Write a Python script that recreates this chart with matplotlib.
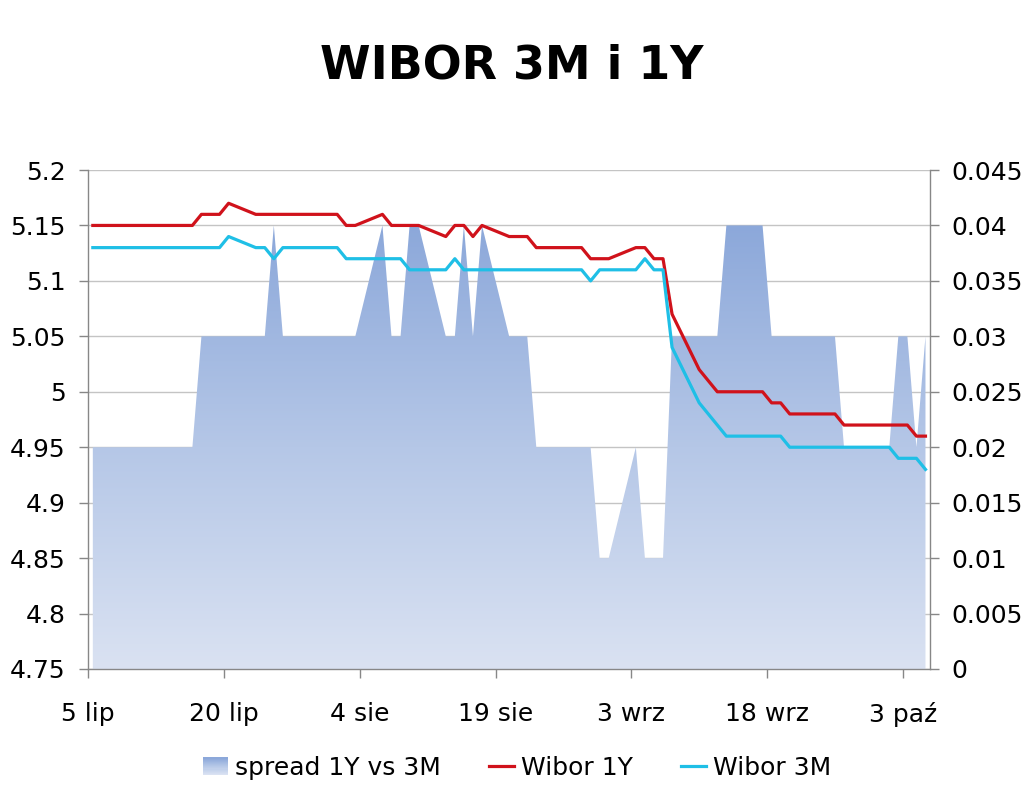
import numpy as np
import pandas as pd
import matplotlib
matplotlib.use("Agg")
import matplotlib.pyplot as plt
import matplotlib.dates as mdates
from matplotlib.colors import LinearSegmentedColormap
from matplotlib.patches import PathPatch, Rectangle
from matplotlib.lines import Line2D
from matplotlib.legend_handler import HandlerBase
from matplotlib.ticker import FuncFormatter

# --- data (business days, 2012) ---
dates = [
    "2012-07-05", "2012-07-06", "2012-07-09", "2012-07-10", "2012-07-11", "2012-07-12",
    "2012-07-13", "2012-07-16", "2012-07-17", "2012-07-18", "2012-07-19", "2012-07-20",
    "2012-07-23", "2012-07-24", "2012-07-25", "2012-07-26", "2012-07-27", "2012-07-30",
    "2012-07-31", "2012-08-01", "2012-08-02", "2012-08-03", "2012-08-06", "2012-08-07",
    "2012-08-08", "2012-08-09", "2012-08-10", "2012-08-13", "2012-08-14", "2012-08-15",
    "2012-08-16", "2012-08-17", "2012-08-20", "2012-08-21", "2012-08-22", "2012-08-23",
    "2012-08-24", "2012-08-27", "2012-08-28", "2012-08-29", "2012-08-30", "2012-08-31",
    "2012-09-03", "2012-09-04", "2012-09-05", "2012-09-06", "2012-09-07", "2012-09-10",
    "2012-09-11", "2012-09-12", "2012-09-13", "2012-09-14", "2012-09-17", "2012-09-18",
    "2012-09-19", "2012-09-20", "2012-09-21", "2012-09-24", "2012-09-25", "2012-09-26",
    "2012-09-27", "2012-09-28", "2012-10-01", "2012-10-02", "2012-10-03", "2012-10-04",
    "2012-10-05",
]

wibor_1y = [
    5.15, 5.15, 5.15, 5.15, 5.15, 5.15, 5.15, 5.15, 5.16, 5.16, 5.16, 5.17,
    5.16, 5.16, 5.16, 5.16, 5.16, 5.16, 5.16, 5.16, 5.15, 5.15, 5.16, 5.15,
    5.15, 5.15, 5.15, 5.14, 5.15, 5.15, 5.14, 5.15, 5.14, 5.14, 5.14, 5.13,
    5.13, 5.13, 5.13, 5.12, 5.12, 5.12, 5.13, 5.13, 5.12, 5.12, 5.07, 5.02,
    5.01, 5.00, 5.00, 5.00, 5.00, 4.99, 4.99, 4.98, 4.98, 4.98, 4.98, 4.97,
    4.97, 4.97, 4.97, 4.97, 4.97, 4.96, 4.96,
]

wibor_3m = [
    5.13, 5.13, 5.13, 5.13, 5.13, 5.13, 5.13, 5.13, 5.13, 5.13, 5.13, 5.14,
    5.13, 5.13, 5.12, 5.13, 5.13, 5.13, 5.13, 5.13, 5.12, 5.12, 5.12, 5.12,
    5.12, 5.11, 5.11, 5.11, 5.12, 5.11, 5.11, 5.11, 5.11, 5.11, 5.11, 5.11,
    5.11, 5.11, 5.11, 5.10, 5.11, 5.11, 5.11, 5.12, 5.11, 5.11, 5.04, 4.99,
    4.98, 4.97, 4.96, 4.96, 4.96, 4.96, 4.96, 4.95, 4.95, 4.95, 4.95, 4.95,
    4.95, 4.95, 4.95, 4.94, 4.94, 4.94, 4.93,
]

spread = [
    0.02, 0.02, 0.02, 0.02, 0.02, 0.02, 0.02, 0.02, 0.03, 0.03, 0.03, 0.03,
    0.03, 0.03, 0.04, 0.03, 0.03, 0.03, 0.03, 0.03, 0.03, 0.03, 0.04, 0.03,
    0.03, 0.04, 0.04, 0.03, 0.03, 0.04, 0.03, 0.04, 0.03, 0.03, 0.03, 0.02,
    0.02, 0.02, 0.02, 0.02, 0.01, 0.01, 0.02, 0.01, 0.01, 0.01, 0.03, 0.03,
    0.03, 0.03, 0.04, 0.04, 0.04, 0.03, 0.03, 0.03, 0.03, 0.03, 0.03, 0.02,
    0.02, 0.02, 0.02, 0.03, 0.03, 0.02, 0.03,
]

tick_dates = ["2012-07-05", "2012-07-20", "2012-08-04", "2012-08-19",
              "2012-09-03", "2012-09-18", "2012-10-03"]
tick_labels = ["5 lip", "20 lip", "4 sie", "19 sie", "3 wrz", "18 wrz", "3 paź"]

labels = ["spread 1Y vs 3M", "Wibor 1Y", "Wibor 3M"]

# --- style ---
RED = "#D0121B"
CYAN = "#1FBFE6"
AXIS_GREY = "#878787"
GRID_GREY = "#C4C4C4"
FS = 18
grad_cmap = LinearSegmentedColormap.from_list("spread", ["#DAE2F2", "#B5C7E7", "#8CA8DA"])

plt.rcParams["font.family"] = ["DejaVu Sans"]

# Excel date axis "between tick marks": each point sits in the middle of its day
x = mdates.date2num(pd.to_datetime(dates)) + 0.5
x_start = mdates.date2num(pd.Timestamp(dates[0]))
x_end = mdates.date2num(pd.Timestamp(dates[-1])) + 1

fig = plt.figure(figsize=(10.24, 7.91), dpi=100, facecolor="white")
ax = fig.add_axes([88.3 / 1024, 1 - 669 / 791, (930 - 88.3) / 1024, (669 - 170) / 791])
ax2 = ax.twinx()
ax.set_zorder(ax2.get_zorder() + 1)
ax.patch.set_visible(False)

# spread area with vertical gradient (right axis)
poly = ax2.fill_between(x, 0, spread, facecolor="none", edgecolor="none")
clip = PathPatch(poly.get_paths()[0], transform=ax2.transData,
                 facecolor="none", edgecolor="none")
ax2.add_patch(clip)
grad = np.linspace(0, 1, 256).reshape(-1, 1)
im = ax2.imshow(grad, extent=[x_start, x_end, 0, max(spread)], origin="lower",
                cmap=grad_cmap, aspect="auto", interpolation="bilinear", zorder=2)
im.set_clip_path(clip)

# rate lines (left axis)
ax.plot(x, wibor_1y, color=RED, lw=2.3, solid_joinstyle="round", zorder=3)
ax.plot(x, wibor_3m, color=CYAN, lw=2.3, solid_joinstyle="round", zorder=3)

ax.set_xlim(x_start, x_end)
ax.set_ylim(4.75, 5.2)
ax2.set_ylim(0, 0.045)
ax.set_yticks(np.linspace(4.75, 5.2, 10))
ax2.set_yticks(np.linspace(0, 0.045, 10))
fmt = FuncFormatter(lambda v, p: f"{round(v, 4):g}")
ax.yaxis.set_major_formatter(fmt)
ax2.yaxis.set_major_formatter(fmt)

ax.set_xticks(mdates.date2num(pd.to_datetime(tick_dates)))
ax.set_xticklabels(tick_labels)

ax2.set_axisbelow(True)
ax2.yaxis.grid(True, color=GRID_GREY, lw=1.0)

for s in ax.spines.values():
    s.set_visible(False)
ax2.spines["top"].set_visible(False)
for side in ("left", "right", "bottom"):
    ax2.spines[side].set_color(AXIS_GREY)
    ax2.spines[side].set_linewidth(1.0)

ax.tick_params(axis="y", direction="out", length=6.5, width=1, color=AXIS_GREY,
               pad=10, labelsize=FS)
ax2.tick_params(axis="y", direction="out", length=6.5, width=1, color=AXIS_GREY,
                pad=9, labelsize=FS)
ax.tick_params(axis="x", direction="out", length=6.5, width=1, color=AXIS_GREY,
               pad=17, labelsize=FS)

fig.text(0.5, 1 - 78.5 / 791, "WIBOR 3M i 1Y", ha="center", va="baseline",
         fontsize=33, weight="bold")


class GradientHandler(HandlerBase):
    def create_artists(self, legend, orig_handle, xdescent, ydescent,
                       width, height, fontsize, trans):
        n = 16
        arts = []
        for i in range(n):
            r = Rectangle((-xdescent, -ydescent + height * i / n), width, height / n + 0.2,
                          facecolor=grad_cmap(i / (n - 1)), edgecolor="none",
                          transform=trans)
            arts.append(r)
        return arts


area_handle = Rectangle((0, 0), 1, 1)
h1 = Line2D([], [], color=RED, lw=2.3)
h3 = Line2D([], [], color=CYAN, lw=2.3)
fig.legend([area_handle, h1, h3], labels, loc="center",
           bbox_to_anchor=(0.505, 1 - 768 / 791), ncol=3, frameon=False,
           fontsize=FS, handlelength=1.0, handletextpad=0.3, columnspacing=1.9,
           handler_map={Rectangle: GradientHandler()})

fig.savefig("out.png", dpi=100, facecolor="white")
